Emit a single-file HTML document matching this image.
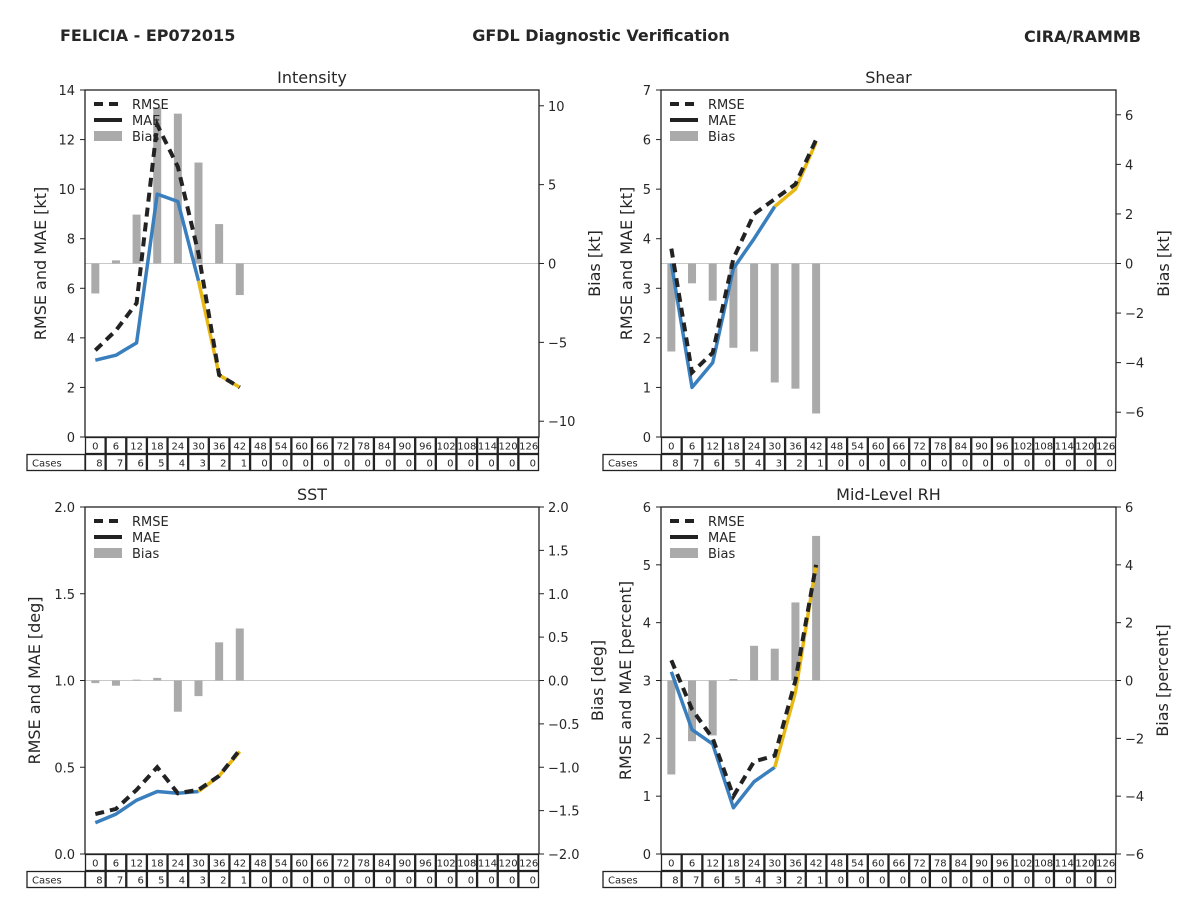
<!DOCTYPE html>
<html><head><meta charset="utf-8"><style>
body{margin:0;background:#fff;font-family:"Liberation Sans","DejaVu Sans",sans-serif}
svg text{font-family:"DejaVu Sans","Liberation Sans",sans-serif;fill:#262626}
</style></head><body>
<svg id="c" width="1200" height="900" xmlns="http://www.w3.org/2000/svg">
<text x="60" y="41" font-size="16" font-weight="bold">FELICIA - EP072015</text>
<text x="601" y="41" font-size="16" font-weight="bold" text-anchor="middle">GFDL Diagnostic Verification</text>
<text x="1141" y="42" font-size="16" font-weight="bold" text-anchor="end">CIRA/RAMMB</text>
</svg>
<script>
const hours=[0,6,12,18,24,30,36,42,48,54,60,66,72,78,84,90,96,102,108,114,120,126];
const cases=[8,7,6,5,4,3,2,1,0,0,0,0,0,0,0,0,0,0,0,0,0,0];
const intRmse=[3.5,4.3,5.4,12.6,10.9,7.4,2.5,2.0];
const intMae=[3.1,3.3,3.8,9.8,9.5,6.3,2.5,2.0];
const intBias=[-1.9,0.2,3.1,9.9,9.5,6.4,2.5,-2.0];
const shrRmse=[3.8,1.3,1.7,3.6,4.5,4.8,5.1,6.0];
const shrMae=[3.5,1.0,1.5,3.4,4.0,4.65,5.0,5.95];
const shrBias=[-3.55,-0.8,-1.5,-3.4,-3.55,-4.8,-5.05,-6.05];
const sstRmse=[0.23,0.26,0.37,0.5,0.35,0.37,0.45,0.6];
const sstMae=[0.18,0.23,0.31,0.36,0.35,0.36,0.45,0.59];
const sstBias=[-0.03,-0.06,0.01,0.03,-0.36,-0.18,0.44,0.6];
const rhRmse=[3.35,2.5,2.0,1.0,1.6,1.7,3.0,5.0];
const rhMae=[3.15,2.15,1.9,0.8,1.25,1.5,2.8,5.0];
const rhBias=[-3.25,-2.1,-1.9,0.05,1.2,1.1,2.7,5.0];
const svg=document.getElementById('c');
const NS='http://www.w3.org/2000/svg';
function mk(t,a,txt){const e=document.createElementNS(NS,t);for(const k in a)e.setAttribute(k,a[k]);if(txt!==undefined)e.textContent=txt;svg.appendChild(e);return e;}
function fmt(v){return (v<0?'\u2212':'')+Math.abs(v).toString();}
function panel(p){
  const {x0,x1,y0,y1}=p;
  const cw=(x1-x0)/22;
  const X=i=>x0+cw*(i+0.5);
  const YL=v=>y1-(v-p.lmin)/(p.lmax-p.lmin)*(y1-y0);
  const YR=v=>y1-(v-p.rmin)/(p.rmax-p.rmin)*(y1-y0);
  let t=mk('text',{x:(x0+x1)/2,y:y0-7,'font-size':16,'text-anchor':'middle'},p.title);
  
  // zero line
  let z=mk('line',{x1:x0,x2:x1,y1:YR(0),y2:YR(0),stroke:'#c8c8c8','stroke-width':1});
  
  // bias bars
  p.bias.forEach((v,i)=>{const a=YR(0),b=YR(v);
    const r=mk('rect',{x:X(i)-4,y:Math.min(a,b),width:8,height:Math.abs(a-b),fill:'#aaaaaa'});
    });
  // MAE line: blue while cases>3, yellow after
  const blue=[],yel=[];
  p.mae.forEach((v,i)=>{if(cases[i]>=3)blue.push(X(i)+','+YL(v));if(cases[i]<=3)yel.push(X(i)+','+YL(v));});
  let l1=mk('polyline',{points:blue.join(' '),fill:'none',stroke:'#3a7fbd','stroke-width':3.5,'stroke-linejoin':'round'});
  
  let l2=mk('polyline',{points:yel.join(' '),fill:'none',stroke:'#e8b813','stroke-width':3.5,'stroke-linejoin':'round'});
  
  let l3=mk('polyline',{points:p.rmse.map((v,i)=>X(i)+','+YL(v)).join(' '),fill:'none',stroke:'#222','stroke-width':4,'stroke-dasharray':'9,6'});
  
  // frame
  let f=mk('rect',{x:x0,y:y0,width:x1-x0,height:y1-y0,fill:'none',stroke:'#222','stroke-width':1.3});
  
  // left ticks
  p.lticks.forEach(v=>{const y=YL(v);mk('line',{x1:x0-5,x2:x0,y1:y,y2:y,stroke:'#222'});
    const e=mk('text',{x:x0-10,y:y+5,'font-size':13,'text-anchor':'end'},p.lfmt(v));
    });
  p.rticks.forEach(v=>{const y=YR(v);mk('line',{x1:x1,x2:x1+5,y1:y,y2:y,stroke:'#222'});
    const e=mk('text',{x:x1+9,y:y+5,'font-size':13},p.rfmt(v));
    });
  let ly=mk('text',{x:0,y:0,'font-size':16,'text-anchor':'middle',transform:`translate(${p.lyx},${(y0+y1)/2}) rotate(-90)`},p.ylab);
  
  let ry=mk('text',{x:0,y:0,'font-size':16,'text-anchor':'middle',transform:`translate(${p.ryx},${(y0+y1)/2}) rotate(-90)`},p.rlab);
  
  // legend
  const lx=x0+9,lyy=y0+14;
  mk('line',{x1:lx,x2:lx+28,y1:lyy,y2:lyy,stroke:'#222','stroke-width':4,'stroke-dasharray':'9,6'});
  mk('line',{x1:lx,x2:lx+28,y1:lyy+16,y2:lyy+16,stroke:'#222','stroke-width':4});
  mk('rect',{x:lx,y:lyy+27,width:28,height:10,fill:'#aaaaaa'});
  ['RMSE','MAE','Bias'].forEach((s,k)=>{const e=mk('text',{x:lx+38,y:lyy+5+16*k,'font-size':13},s);
    });
  // table
  const th=17;
  hours.forEach((h,i)=>{const cx=x0+cw*i;
    mk('rect',{x:cx+0.5,y:y1+0.5,width:cw-1,height:th-1,fill:'none',stroke:'#222','stroke-width':1.3});
    mk('rect',{x:cx+0.5,y:y1+th+0.5,width:cw-1,height:th-1,fill:'none',stroke:'#222','stroke-width':1.3});
    const a=mk('text',{x:cx+cw/2,y:y1+12.5,'font-size':10,'text-anchor':'middle'},h);
    
    const b=mk('text',{x:cx+cw-3,y:y1+th+12.5,'font-size':10,'text-anchor':'end'},cases[i]);
    });
  mk('rect',{x:x0-58,y:y1+th+0.5,width:58,height:th-1,fill:'none',stroke:'#222','stroke-width':1.3});
  const c=mk('text',{x:x0-53,y:y1+th+12.5,'font-size':10},'Cases');
  
}
const r0=[0,2,4,6,8,10,12,14],nf=v=>String(v);
panel({key:'intensity',title:'Intensity',x0:85,x1:539,y0:90,y1:437,lmin:0,lmax:14,rmin:-11,rmax:11,
 lticks:r0,rticks:[-10,-5,0,5,10],lfmt:nf,rfmt:fmt,ylab:'RMSE and MAE [kt]',rlab:'Bias [kt]',lyx:46,ryx:600,
 rmse:intRmse,mae:intMae,bias:intBias});
panel({key:'shear',title:'Shear',x0:661,x1:1116,y0:90,y1:437,lmin:0,lmax:7,rmin:-7,rmax:7,
 lticks:[0,1,2,3,4,5,6,7],rticks:[-6,-4,-2,0,2,4,6],lfmt:nf,rfmt:fmt,ylab:'RMSE and MAE [kt]',rlab:'Bias [kt]',lyx:632,ryx:1169,
 rmse:shrRmse,mae:shrMae,bias:shrBias});
panel({key:'sst',title:'SST',x0:85,x1:539,y0:507,y1:854,lmin:0,lmax:2,rmin:-2,rmax:2,
 lticks:[0,0.5,1,1.5,2],rticks:[-2,-1.5,-1,-0.5,0,0.5,1,1.5,2],lfmt:v=>v.toFixed(1),rfmt:v=>(v<0?'\u2212':'')+Math.abs(v).toFixed(1),
 ylab:'RMSE and MAE [deg]',rlab:'Bias [deg]',lyx:40,ryx:603,rmse:sstRmse,mae:sstMae,bias:sstBias});
panel({key:'rh',title:'Mid-Level RH',x0:661,x1:1116,y0:507,y1:854,lmin:0,lmax:6,rmin:-6,rmax:6,
 lticks:[0,1,2,3,4,5,6],rticks:[-6,-4,-2,0,2,4,6],lfmt:nf,rfmt:fmt,ylab:'RMSE and MAE [percent]',rlab:'Bias [percent]',lyx:631,ryx:1168,
 rmse:rhRmse,mae:rhMae,bias:rhBias});
</script>
</body></html>
